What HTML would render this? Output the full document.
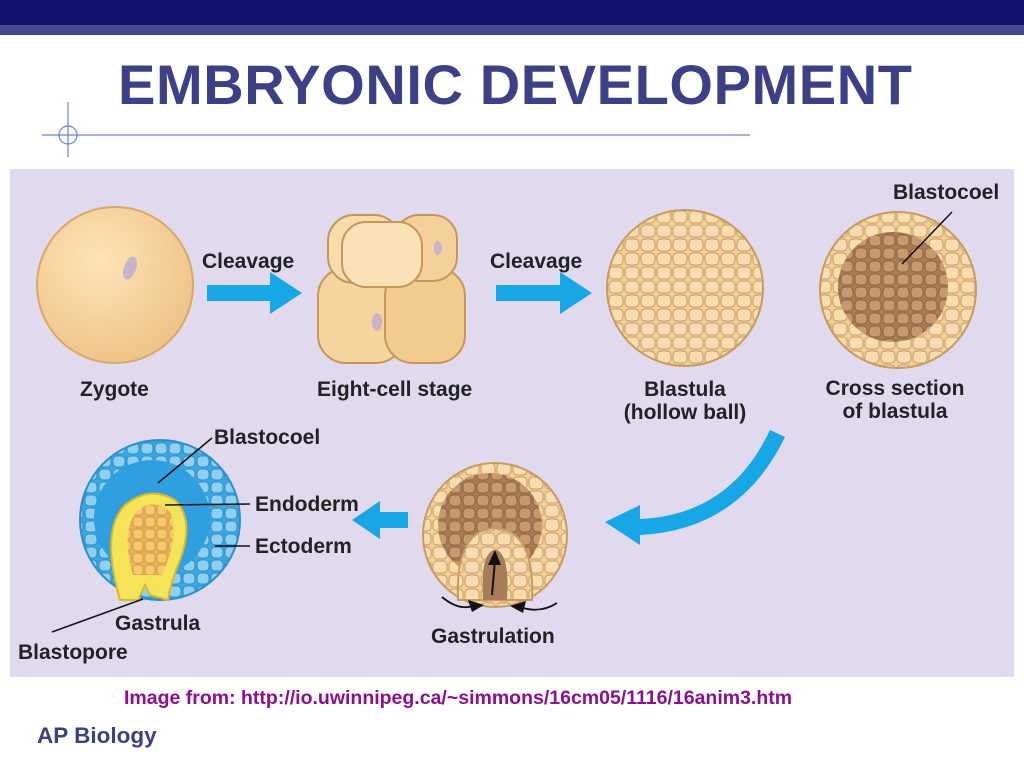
<!DOCTYPE html>
<html><head><meta charset="utf-8"><style>
body{margin:0;width:1024px;height:768px;background:#fff;overflow:hidden;font-family:"Liberation Sans",Arial,sans-serif;position:relative}
.t{position:absolute;font-weight:bold;font-size:21px;color:#222}
</style></head><body>
<div style="position:absolute;left:0;top:0;width:1024px;height:25px;background:#10136e"></div>
<div style="position:absolute;left:0;top:25px;width:1024px;height:10px;background:#444b8d"></div>
<div class="t" style="left:118px;top:52px;font-size:56px;color:#3c4087;letter-spacing:0.6px">EMBRYONIC DEVELOPMENT</div>
<svg width="1024" height="768" style="position:absolute;left:0;top:0">
<defs>
<pattern id="cells" width="16" height="14" patternUnits="userSpaceOnUse">
<rect width="16" height="14" fill="#f3cf98"/>
<rect x="1" y="1" width="14" height="12" rx="4" fill="#f9ddb0" stroke="#c79a60" stroke-width="1"/>
</pattern>
<pattern id="dcells" width="14" height="13" patternUnits="userSpaceOnUse">
<rect width="14" height="13" fill="#a87c56"/>
<rect x="1" y="1" width="12" height="11" rx="4" fill="#c69a6e" stroke="#8d6440" stroke-width="1"/>
</pattern>
<pattern id="bcells" width="14" height="13" patternUnits="userSpaceOnUse">
<rect width="14" height="13" fill="#3aa7e0"/>
<rect x="1" y="1" width="12" height="11" rx="4" fill="#8fd0f2" stroke="#2a8fcf" stroke-width="1"/>
</pattern>
<pattern id="ycells" width="12" height="12" patternUnits="userSpaceOnUse">
<rect width="12" height="12" fill="#e6b65a"/>
<rect x="1" y="1" width="10" height="10" rx="3" fill="#f7c86f" stroke="#d49b40" stroke-width="1"/>
</pattern>
<radialGradient id="zg" cx="40%" cy="35%" r="70%"><stop offset="0" stop-color="#fde4b8"/><stop offset="1" stop-color="#eec285"/></radialGradient>
</defs>
<line x1="42" y1="135" x2="750" y2="135" stroke="#6d7fe0" stroke-width="1.2"/>
<line x1="68" y1="102" x2="68" y2="157" stroke="#6d7fe0" stroke-width="1.2"/>
<circle cx="68" cy="135" r="9" fill="none" stroke="#6d7fe0" stroke-width="1.2"/>
<rect x="10" y="169" width="1004" height="508" fill="#e1daef"/>
<circle cx="115" cy="285" r="78" fill="url(#zg)" stroke="#d7a868" stroke-width="2"/>
<ellipse cx="130" cy="268" rx="6" ry="12" fill="#c9b3c8" transform="rotate(20 130 268)"/>
<g stroke="#c7955a" stroke-width="2">
<rect x="318" y="268" width="86" height="95" rx="28" fill="#f6d49e"/>
<rect x="385" y="268" width="80" height="95" rx="28" fill="#f2cb8f"/>
<rect x="328" y="215" width="72" height="68" rx="26" fill="#f9dcaa"/>
<rect x="395" y="215" width="62" height="66" rx="24" fill="#f4d09a"/>
<rect x="342" y="222" width="80" height="65" rx="24" fill="#fbe2b6"/>
</g>
<ellipse cx="377" cy="322" rx="5" ry="9" fill="#c9b3c8"/>
<ellipse cx="438" cy="248" rx="4" ry="7" fill="#c9b3c8"/>
<circle cx="685" cy="288" r="78" fill="url(#cells)" stroke="#c79a60" stroke-width="2"/>
<circle cx="898" cy="290" r="78" fill="url(#cells)" stroke="#c79a60" stroke-width="2"/>
<circle cx="893" cy="287" r="55" fill="url(#dcells)"/>
<line x1="952" y1="212" x2="902" y2="264" stroke="#111" stroke-width="1.5"/>
<circle cx="495" cy="535" r="72" fill="url(#cells)" stroke="#c79a60" stroke-width="2"/>
<circle cx="490" cy="525" r="52" fill="url(#dcells)"/>
<path d="M458 600 Q455 530 495 528 Q535 530 532 600 Z" fill="url(#cells)" stroke="#c79a60" stroke-width="2"/>
<path d="M483 600 Q480 552 495 550 Q510 552 507 600 Z" fill="#a87c56"/>
<path d="M492 595 L495 560" stroke="#111" stroke-width="2"/><path d="M488 565 L495 550 L501 565Z" fill="#111"/>
<path d="M442 597 Q460 612 475 605" stroke="#111" stroke-width="1.8" fill="none"/><path d="M468 600 L484 605 L472 612Z" fill="#111"/>
<path d="M557 603 Q540 614 520 607" stroke="#111" stroke-width="1.8" fill="none"/><path d="M526 601 L510 606 L523 613Z" fill="#111"/>
<circle cx="160" cy="520" r="80" fill="url(#bcells)" stroke="#2a8fcf" stroke-width="2"/>
<circle cx="152" cy="518" r="58" fill="#2f9fe0"/>
<path d="M120 600 Q100 530 125 505 Q150 485 175 500 Q195 520 180 560 Q170 585 168 600 L150 595 L145 585 L138 600 Z" fill="#f5e35a" stroke="#d9b82a" stroke-width="2"/>
<path d="M133 575 Q120 530 138 510 Q155 498 170 512 Q180 535 162 575 Z" fill="url(#ycells)"/>
<g stroke="#111" stroke-width="1.5">
<line x1="212" y1="438" x2="158" y2="483"/>
<line x1="250" y1="504" x2="165" y2="505"/>
<line x1="250" y1="546" x2="215" y2="546"/>
<line x1="52" y1="632" x2="143" y2="599"/>
</g>
<g fill="#17a6e6">
<path d="M207 285 H270 V272 L302 293 L270 314 V301 H207Z"/>
<path d="M496 285 H560 V272 L592 293 L560 314 V301 H496Z"/>
<path d="M408 512 H380 V501 L352 520 L380 539 V528 H408Z"/>
<path d="M770 430 L785 437 Q740 530 640 535 L640 545 L605 522 L640 505 L640 519 Q730 515 770 430Z"/>
</g>
</svg>
<div class="t" style="left:202px;top:250px">Cleavage</div>
<div class="t" style="left:490px;top:250px">Cleavage</div>
<div class="t" style="left:80px;top:378px">Zygote</div>
<div class="t" style="left:317px;top:378px">Eight-cell stage</div>
<div class="t" style="left:615px;top:378px;text-align:center;width:140px;line-height:23px">Blastula<br>(hollow ball)</div>
<div class="t" style="left:815px;top:377px;text-align:center;width:160px;line-height:23px">Cross section<br>of blastula</div>
<div class="t" style="left:893px;top:181px">Blastocoel</div>
<div class="t" style="left:214px;top:426px">Blastocoel</div>
<div class="t" style="left:255px;top:493px">Endoderm</div>
<div class="t" style="left:255px;top:535px">Ectoderm</div>
<div class="t" style="left:115px;top:612px">Gastrula</div>
<div class="t" style="left:18px;top:641px">Blastopore</div>
<div class="t" style="left:431px;top:625px">Gastrulation</div>
<div class="t" style="left:124px;top:687px;font-size:19.5px;color:#8b0f8f">Image from: http://io.uwinnipeg.ca/~simmons/16cm05/1116/16anim3.htm</div>
<div class="t" style="left:37px;top:723px;font-size:22.5px;color:#3c4087">AP Biology</div>
</body></html>
